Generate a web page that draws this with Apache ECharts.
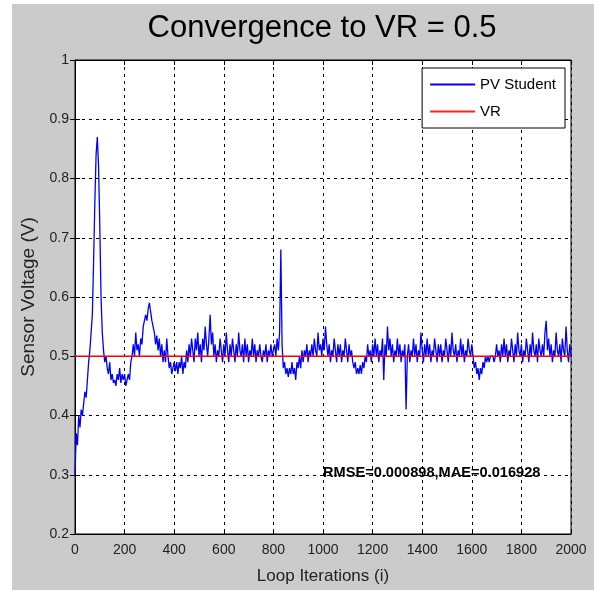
<!DOCTYPE html>
<html>
<head>
<meta charset="utf-8">
<script src="https://cdn.jsdelivr.net/npm/echarts@6/dist/echarts.min.js"></script>
<style>
  html, body { margin: 0; padding: 0; background: #ffffff; }
  #frame { position: absolute; left: 12px; top: 4px; width: 582px; height: 586px; background: #cbcbcb; }
  #chart { position: absolute; left: 0; top: 0; width: 594px; height: 590px; }
</style>
</head>
<body>
<div id="frame"></div>
<div id="chart"></div>
<script>
// Sensor reading sampled every 5 loop iterations (0 .. 2000)
const sampleStep = 5;
const pvStudent = [
  0.30, 0.37, 0.35, 0.40, 0.38, 0.41, 0.40, 0.42, 0.44, 0.43,
  0.46, 0.49, 0.51, 0.54, 0.57, 0.66, 0.76, 0.84, 0.87, 0.82,
  0.72, 0.60, 0.54, 0.51, 0.49, 0.50, 0.48, 0.47, 0.49, 0.46,
  0.47, 0.455, 0.46, 0.45, 0.47, 0.46, 0.48, 0.455, 0.47, 0.46,
  0.47, 0.45, 0.46, 0.47, 0.46, 0.49, 0.50, 0.52, 0.50, 0.54,
  0.51, 0.52, 0.50, 0.53, 0.52, 0.55, 0.56, 0.57, 0.56, 0.58,
  0.59, 0.575, 0.56, 0.55, 0.54, 0.52, 0.535, 0.51, 0.53, 0.50,
  0.52, 0.49, 0.51, 0.49, 0.53, 0.50, 0.48, 0.49, 0.47, 0.48,
  0.49, 0.475, 0.49, 0.47, 0.49, 0.48, 0.50, 0.47, 0.49, 0.48,
  0.51, 0.49, 0.52, 0.50, 0.53, 0.51, 0.49, 0.53, 0.51, 0.54,
  0.50, 0.52, 0.49, 0.53, 0.51, 0.55, 0.52, 0.50, 0.53, 0.57,
  0.52, 0.54, 0.50, 0.52, 0.49, 0.51, 0.50, 0.53, 0.51, 0.49,
  0.52, 0.50, 0.54, 0.51, 0.49, 0.52, 0.50, 0.53, 0.51, 0.49,
  0.52, 0.50, 0.54, 0.51, 0.50, 0.52, 0.49, 0.53, 0.50, 0.52,
  0.49, 0.51, 0.50, 0.53, 0.50, 0.52, 0.49, 0.51, 0.50, 0.52,
  0.50, 0.49, 0.51, 0.50, 0.52, 0.49, 0.51, 0.50, 0.52, 0.50,
  0.51, 0.52, 0.50, 0.53, 0.51, 0.54, 0.68, 0.52, 0.48, 0.49,
  0.47, 0.48, 0.465, 0.48, 0.47, 0.49, 0.47, 0.48, 0.46, 0.49,
  0.48, 0.50, 0.48, 0.51, 0.49, 0.51, 0.50, 0.52, 0.49, 0.51,
  0.50, 0.52, 0.50, 0.53, 0.51, 0.50, 0.54, 0.51, 0.52, 0.50,
  0.53, 0.51, 0.55, 0.52, 0.50, 0.52, 0.49, 0.51, 0.50, 0.53,
  0.51, 0.49, 0.52, 0.50, 0.52, 0.49, 0.51, 0.50, 0.53, 0.51,
  0.49, 0.52, 0.50, 0.51, 0.49, 0.48, 0.49, 0.47, 0.48, 0.47,
  0.485, 0.47, 0.49, 0.48, 0.50, 0.49, 0.52, 0.50, 0.51, 0.49,
  0.52, 0.50, 0.53, 0.50, 0.52, 0.49, 0.51, 0.50, 0.53, 0.46,
  0.52, 0.50, 0.55, 0.51, 0.53, 0.50, 0.52, 0.49, 0.51, 0.50,
  0.53, 0.50, 0.52, 0.49, 0.51, 0.50, 0.52, 0.41, 0.50, 0.52,
  0.49, 0.51, 0.50, 0.53, 0.50, 0.52, 0.49, 0.51, 0.50, 0.54,
  0.51, 0.49, 0.52, 0.50, 0.53, 0.50, 0.52, 0.49, 0.51, 0.50,
  0.53, 0.51, 0.49, 0.52, 0.50, 0.52, 0.49, 0.51, 0.50, 0.53,
  0.51, 0.49, 0.52, 0.50, 0.54, 0.51, 0.50, 0.52, 0.49, 0.51,
  0.50, 0.53, 0.50, 0.52, 0.49, 0.51, 0.50, 0.53, 0.51, 0.50,
  0.52, 0.50, 0.48, 0.49, 0.47, 0.48, 0.46, 0.48, 0.47, 0.49,
  0.48, 0.50, 0.49, 0.50, 0.49, 0.50, 0.50, 0.50, 0.49, 0.50,
  0.52, 0.50, 0.51, 0.49, 0.52, 0.50, 0.53, 0.50, 0.52, 0.49,
  0.51, 0.50, 0.53, 0.51, 0.49, 0.52, 0.50, 0.54, 0.51, 0.50,
  0.52, 0.49, 0.51, 0.50, 0.53, 0.51, 0.49, 0.52, 0.50, 0.54,
  0.51, 0.50, 0.52, 0.49, 0.53, 0.51, 0.50, 0.52, 0.50, 0.54,
  0.56, 0.51, 0.53, 0.50, 0.52, 0.49, 0.51, 0.50, 0.54, 0.51,
  0.50, 0.52, 0.49, 0.53, 0.51, 0.50, 0.55, 0.51, 0.49, 0.52,
  0.50
];
const vrLevel = 0.5;
const xRange = [0, 2000];
const yRange = [0.2, 1];
const seriesNames = ['PV Student', 'VR'];
const statsText = 'RMSE=0.000898,MAE=0.016928';
const statsAnchor = [1000, 0.303];
const titleText = 'Convergence to VR = 0.5';
const xTitle = 'Loop Iterations (i)';
const yTitle = 'Sensor Voltage (V)';

const pvPoints = pvStudent.map((v, i) => [i * sampleStep, v]);
const vrPoints = xRange.map(x => [x, vrLevel]);

const font = 'Liberation Sans, Arial, sans-serif';
const chart = echarts.init(document.getElementById('chart'), null, { renderer: 'canvas' });

const gridLine = { show: true, lineStyle: { color: '#000', width: 1, type: [3, 4] } };
const tickIn = { show: true, inside: true, length: 5, lineStyle: { color: '#000' } };

chart.setOption({
  animation: false,
  backgroundColor: 'transparent',
  title: {
    text: titleText,
    left: 317,
    textAlign: 'center',
    top: 8,
    textStyle: { fontFamily: font, fontSize: 31, fontWeight: 'normal', color: '#000' }
  },
  legend: {
    orient: 'vertical',
    right: 29,
    top: 68,
    data: seriesNames.map(n => ({ name: n, icon: 'rect' })),
    itemWidth: 45,
    itemHeight: 2,
    itemGap: 12,
    padding: [9, 9, 9, 8],
    backgroundColor: '#fff',
    borderColor: '#000',
    borderWidth: 1,
    textStyle: { fontFamily: font, fontSize: 15, color: '#000', padding: [0, 0, 0, 0] }
  },
  grid: {
    left: 75, top: 60, width: 496, height: 474,
    show: true, backgroundColor: '#fff', borderColor: '#000', borderWidth: 1
  },
  xAxis: [{
    type: 'value', min: xRange[0], max: xRange[1], interval: 200,
    position: 'bottom',
    name: xTitle, nameLocation: 'middle', nameGap: 34,
    nameTextStyle: { fontFamily: font, fontSize: 17, color: '#222' },
    axisLine: { show: true, lineStyle: { color: '#000' } },
    axisTick: tickIn,
    axisLabel: { fontFamily: font, fontSize: 14, color: '#222', margin: 9, formatter: v => String(v) },
    splitLine: gridLine
  }, {
    type: 'value', min: xRange[0], max: xRange[1], interval: 200,
    position: 'top',
    axisLine: { show: true, lineStyle: { color: '#000' } },
    axisTick: tickIn,
    axisLabel: { show: false },
    splitLine: { show: false }
  }],
  yAxis: [{
    type: 'value', min: yRange[0], max: yRange[1], interval: 0.1,
    position: 'left',
    name: yTitle, nameLocation: 'middle', nameGap: 32, nameRotate: 90,
    nameTextStyle: { fontFamily: font, fontSize: 19, color: '#222' },
    axisLine: { show: true, lineStyle: { color: '#000' } },
    axisTick: tickIn,
    axisLabel: { fontFamily: font, fontSize: 14, color: '#222', margin: 6 },
    splitLine: gridLine
  }, {
    type: 'value', min: yRange[0], max: yRange[1], interval: 0.1,
    position: 'right',
    axisLine: { show: true, lineStyle: { color: '#000' } },
    axisTick: tickIn,
    axisLabel: { show: false },
    splitLine: { show: false }
  }],
  series: [{
    name: seriesNames[0],
    type: 'line',
    data: pvPoints,
    showSymbol: false,
    symbol: 'none',
    lineStyle: { color: '#0000ff', width: 1.3 },
    itemStyle: { color: '#0000ff' },
    z: 3,
    markPoint: {
      symbol: 'circle', symbolSize: 0,
      data: [{ coord: statsAnchor, value: statsText }],
      label: {
        show: true, position: 'right', distance: 0,
        formatter: statsText,
        fontFamily: font, fontSize: 14.6, fontWeight: 'bold', color: '#000'
      }
    }
  }, {
    name: seriesNames[1],
    type: 'line',
    data: vrPoints,
    showSymbol: false,
    symbol: 'none',
    lineStyle: { color: '#ff0000', width: 1.5 },
    itemStyle: { color: '#ff2020' },
    z: 4
  }]
});
</script>
</body>
</html>
